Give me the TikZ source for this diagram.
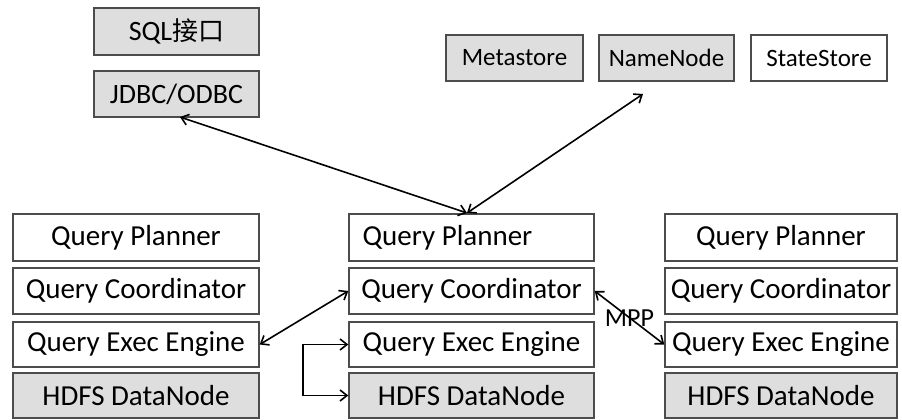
\documentclass[tikz,border=0pt]{standalone}
\usepackage{fontspec}
\setmainfont{Carlito}
\newfontfamily\cjk{Noto Sans CJK SC}
\usetikzlibrary{arrows.meta}
\begin{document}
\begin{tikzpicture}[x=1pt,y=-1pt,
  box/.style={draw=black!70,line width=1.4pt,inner sep=0pt,font=\fontsize{29}{32}\selectfont},
  shaded/.style={box,fill=black!13},
  plain/.style={box,fill=white},
  small/.style={font=\fontsize{25}{28}\selectfont},
  conn/.style={line width=1.6pt,{Straight Barb[length=7pt,width=11pt]}-{Straight Barb[length=7pt,width=11pt]}},
  oneway/.style={line width=1.6pt,-{Straight Barb[length=7pt,width=11pt]}}]
\useasboundingbox[fill=white] (0,0) rectangle (902,420);
% top left
\node[shaded,minimum width=165pt,minimum height=47pt,font=\fontsize{28}{32}\selectfont] (sql) at (176.5,31.5) {SQL{\cjk\fontsize{26}{30}\selectfont 接口}};
\node[shaded,minimum width=165pt,minimum height=46pt,font=\fontsize{28}{32}\selectfont] (jdbc) at (176.5,94) {JDBC/ODBC};
% top right
\node[shaded,small,minimum width=137pt,minimum height=46pt] (meta) at (514.5,58) {Metastore};
\node[shaded,small,minimum width=135pt,minimum height=46pt] (name) at (666.5,58) {NameNode};
\node[plain,small,minimum width=136pt,minimum height=46pt] (state) at (819,58) {StateStore};
% columns
\foreach \c/\x/\w/\s in {l/136/246/0, m/471.5/245/-48, r/781/232/0}{
  \node[plain,minimum width=\w pt,minimum height=47pt] (\c p) at (\x,237.5) {\hspace*{\s pt}Query Planner};
  \node[plain,minimum width=\w pt,minimum height=46pt] (\c c) at (\x,291) {Query Coordinator};
  \node[plain,minimum width=\w pt,minimum height=45pt] (\c e) at (\x,344.5) {Query Exec Engine};
  \node[shaded,minimum width=\w pt,minimum height=45pt] (\c h) at (\x,395.5) {HDFS DataNode};
}
% connectors
\coordinate (hub) at (467,213);
\coordinate (jtip) at (180,117);
\coordinate (ntip) at (643,94);
\draw[conn] (jtip) -- (hub);
\draw[conn] (hub) -- (ntip);
\draw[conn] (le.east) -- (mc.west);
\coordinate (bx) at (303,0);
\draw[oneway] (me.west) -| (bx |- mh.west) -- (mh.west);
\draw[oneway] (bx |- me.west) -- (me.west);
\draw[conn] (mc.east) -- (re.west) node[pos=0.5,font=\fontsize{26}{28}\selectfont,inner sep=0pt] {MPP};
\end{tikzpicture}
\end{document}
